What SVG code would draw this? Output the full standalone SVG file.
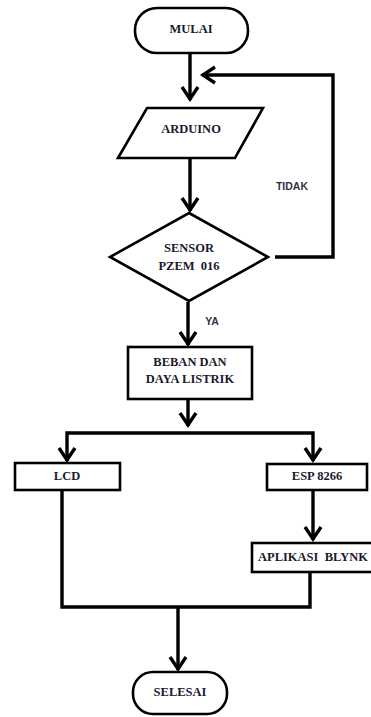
<svg xmlns="http://www.w3.org/2000/svg" width="371" height="717" viewBox="0 0 371 717">
<style>
.shape{fill:#fff;stroke:#000;stroke-width:2.6}
.conn{fill:none;stroke:#000;stroke-width:3.4}
.lbl{font-family:"Liberation Serif","Times New Roman",serif;font-weight:bold;font-size:12.5px;fill:#1a1a2e;text-anchor:middle;dominant-baseline:central;white-space:pre}
.side{font-family:"Liberation Sans",Arial,sans-serif;font-weight:bold;font-size:10.5px;fill:#333344;text-anchor:middle;dominant-baseline:central}
</style>
<defs>
<marker id="arr" viewBox="-16 -10 20 20" markerWidth="20" markerHeight="20" refX="0" refY="0" orient="auto-start-reverse" markerUnits="userSpaceOnUse" overflow="visible">
<path d="M-13,-8 L-1,0 L-13,8" fill="none" stroke="#000" stroke-width="3.4"/>
</marker>
</defs>
<g id="connectors">
<path class="conn" d="M190,53 L190,100" marker-end="url(#arr)"/>
<path class="conn" d="M275,257 L333,257 L333,75 L202,75" marker-end="url(#arr)"/>
<path class="conn" d="M190,158 L190,211" marker-end="url(#arr)"/>
<path class="conn" d="M188,302 L188,345" marker-end="url(#arr)"/>
<path class="conn" d="M188,399 L188,426" marker-end="url(#arr)"/>
<path class="conn" d="M67,461 L67,433 L313,433 L313,461" marker-start="url(#arr)" marker-end="url(#arr)"/>
<path class="conn" d="M313,490 L313,540" marker-end="url(#arr)"/>
<path class="conn" d="M62,490 L62,607 L310,607 L310,572"/>
<path class="conn" d="M178,607 L178,670" marker-end="url(#arr)"/>
</g>
<g id="mulai">
<rect class="shape" x="135" y="8" width="113" height="45" rx="22" ry="22"/>
<text class="lbl" x="191" y="29">MULAI</text>
</g>
<g id="arduino">
<polygon class="shape" points="147,108 263,108 235,158 118,158"/>
<text class="lbl" x="191" y="129">ARDUINO</text>
</g>
<g id="sensor">
<polygon class="shape" points="189,213 268,257 189,301 110,257"/>
<text class="lbl" x="189" y="248">SENSOR</text>
<text class="lbl" x="189" y="266">PZEM  016</text>
</g>
<g id="tidak-label"><text class="side" x="292" y="186">TIDAK</text></g>
<g id="ya-label"><text class="side" x="212" y="321">YA</text></g>
<g id="beban">
<rect class="shape" x="128" y="347" width="124" height="52"/>
<text class="lbl" x="190" y="362">BEBAN DAN</text>
<text class="lbl" x="190" y="379">DAYA LISTRIK</text>
</g>
<g id="lcd">
<rect class="shape" x="15" y="463" width="105" height="27"/>
<text class="lbl" x="67" y="476">LCD</text>
</g>
<g id="esp">
<rect class="shape" x="267" y="464" width="100" height="26"/>
<text class="lbl" x="317" y="476">ESP 8266</text>
</g>
<g id="blynk">
<rect class="shape" x="252" y="543" width="121" height="29"/>
<text class="lbl" x="313" y="557">APLIKASI  BLYNK</text>
</g>
<g id="selesai">
<rect class="shape" x="133" y="672" width="94" height="42" rx="20" ry="20"/>
<text class="lbl" x="180" y="692">SELESAI</text>
</g>
</svg>
